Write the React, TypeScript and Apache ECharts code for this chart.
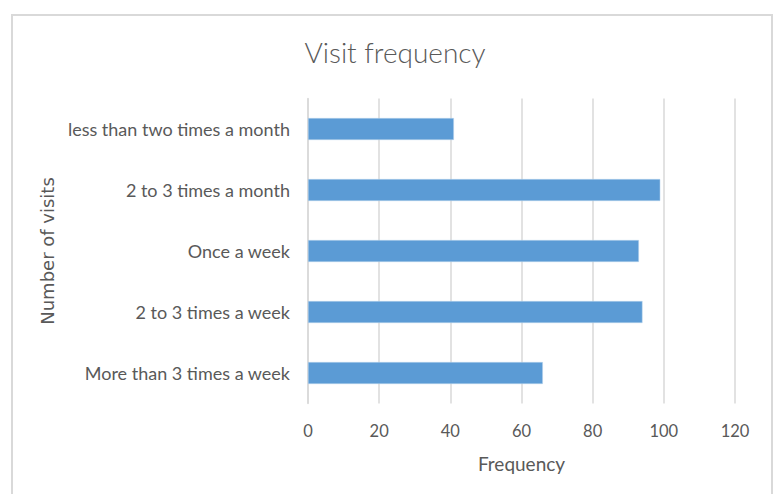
import React, { useEffect, useRef } from "react";
import * as echarts from "echarts";

const categories = [
  "More than 3 times a week",
  "2 to 3 times a week",
  "Once a week",
  "2 to 3 times a month",
  "less than two times a month",
];
const frequencies = [66, 94, 93, 99, 41];
const titleText = "Visit frequency";
const xAxisName = "Frequency";
const yAxisName = "Number of visits";

const FONT = "Lato, 'Open Sans', sans-serif";

export default function App() {
  const ref = useRef<HTMLDivElement>(null);
  useEffect(() => {
    if (!ref.current) return;
    const chart = echarts.init(ref.current, undefined, { renderer: "svg" });
    chart.setOption({
      animation: false,
      backgroundColor: "#ffffff",
      title: {
        text: titleText,
        left: 390,
        textAlign: "center",
        top: 33,
        textStyle: { fontFamily: FONT, fontSize: 28, fontWeight: 300, color: "#595959" },
      },
      graphic: [
        {
          type: "rect",
          shape: { x: 12, y: 15, width: 760, height: 500 },
          style: { fill: "none", stroke: "#d9d9d9", lineWidth: 2 },
          silent: true,
        },
      ],
      grid: { left: 308, right: 43, top: 98.5, bottom: 90.5, containLabel: false },
      xAxis: {
        type: "value",
        min: 0,
        max: 120,
        interval: 20,
        name: xAxisName,
        nameLocation: "middle",
        nameGap: 50,
        nameTextStyle: { fontFamily: FONT, fontSize: 19, color: "#595959" },
        axisLine: { show: false },
        axisTick: { show: false },
        axisLabel: { fontFamily: FONT, fontSize: 16.5, color: "#595959", margin: 19 },
        splitLine: { show: true, lineStyle: { color: "#d9d9d9", width: 1.5 } },
      },
      yAxis: {
        type: "category",
        data: categories,
        name: yAxisName,
        nameLocation: "middle",
        nameGap: 243,
        nameRotate: 90,
        nameTextStyle: { fontFamily: "'DejaVu Sans', sans-serif", fontSize: 18, color: "#595959" },
        axisLine: { show: true, lineStyle: { color: "#d9d9d9", width: 1.5 } },
        axisTick: { show: false },
        axisLabel: { fontFamily: FONT, fontSize: 18, color: "#595959", margin: 18 },
        splitLine: { show: false },
      },
      series: [
        {
          type: "bar",
          data: frequencies,
          barCategoryGap: "64%",
          itemStyle: { color: "#5b9bd5", borderColor: "#bdd7ee", borderWidth: 0.5 },
        },
      ],
    });
    return () => chart.dispose();
  }, []);
  return (
    <div
      ref={ref}
      style={{ position: "fixed", left: 0, top: 0, width: 778, height: 494, background: "#fff" }}
    />
  );
}
